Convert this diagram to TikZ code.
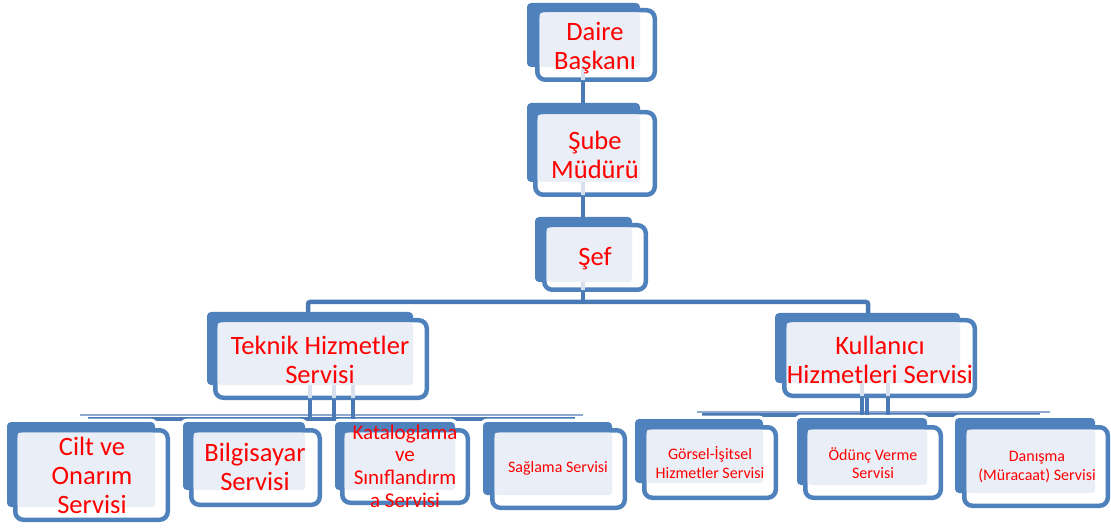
\documentclass[tikz,border=0pt]{standalone}
\usepackage{fontspec}
\setmainfont{Carlito}
\usetikzlibrary{fit}
\definecolor{obl}{HTML}{4F81BD}
\definecolor{oline}{HTML}{4A7AB5}
\definecolor{olight}{HTML}{EAEFF7}
\definecolor{othin}{HTML}{8EA8D0}
\definecolor{ostub}{HTML}{D8E0EE}
\definecolor{ored}{HTML}{FF0000}
\tikzset{
  backbox/.style={fill=obl, draw=none, rounded corners=4pt, inner sep=0pt, outer sep=0pt},
  frontbox/.style={draw=obl, line width=4.5pt, fill=white, rounded corners=8pt, inner sep=0pt, outer sep=0pt},
  lightfill/.style={fill=olight, rounded corners=3pt},
  halofill/.style={fill=white, rounded corners=8pt},
  conn/.style={draw=oline, line width=4.5pt},
  thinline/.style={draw=othin, line width=1.5pt},
  stubline/.style={draw=ostub, line width=4.5pt},
  txtbig/.style={text=ored, align=center, inner sep=0pt, font=\fontsize{26.5}{29}\selectfont},
  txtmid/.style={text=ored, align=center, inner sep=0pt, font=\fontsize{21}{22.7}\selectfont},
  txtsmall/.style={text=ored, align=center, inner sep=0pt, font=\fontsize{16}{18.5}\selectfont},
}
% #1 name, #2-#5 back box, #6-#9 front box (outer edges, in px)
\newcommand\orgbox[9]{%
  \node[backbox, fit={(#2,#3) (#4,#5)}] (#1-b) {};
  \node[frontbox, fit={(#6+2.25,#7+2.25) (#8-2.25,#9-2.25)}] (#1) {};
  \fill[lightfill] (#6+4.5,#7+4.5) rectangle (#4,#5);
}
\newcommand\orghalo[8]{%
  \fill[halofill] (#1-3.5,#2-3.5) rectangle (#3+3.5,#4+3.5);
  \fill[halofill] (#5-3.5,#6-3.5) rectangle (#7+3.5,#8+3.5);
}
\begin{document}
\begin{tikzpicture}[x=1pt,y=-1pt]
\fill[white] (0,0) rectangle (1111,529);
\useasboundingbox (0,0) rectangle (1111,529);

% free coordinates for the bus lines
\coordinate (cx) at (583,0);
\coordinate (hy) at (0,302);
\coordinate (lx) at (308,0);
\coordinate (rx) at (868,0);
\coordinate (lthinA) at (80,415);
\coordinate (lthinB) at (583,415);
\coordinate (lbarA) at (88,419);
\coordinate (lbarB) at (575,419);
\coordinate (rthinA) at (697,412);
\coordinate (rthinB) at (1050,412);
\coordinate (rbarA) at (702,415);
\coordinate (rbarB) at (1040,415);
\coordinate (tA) at (310,0);
\coordinate (tB) at (334,0);
\coordinate (tC) at (353,0);
\coordinate (kA) at (862,0);
\coordinate (kB) at (867,0);
\coordinate (kC) at (888,0);

% bus lines of lower level
\draw[thinline] (lthinA) -- (lthinB);
\draw[conn, line width=4pt] (lbarA) -- (lbarB);
\draw[thinline] (rthinA) -- (rthinB);
\draw[conn, line width=4pt] (rbarA) -- (rbarB);

% halos of lower boxes
\orghalo{7}{422}{155}{507}{13}{428}{170}{522}
\orghalo{183}{422}{305}{490}{189}{428}{322}{507}
\orghalo{335}{422}{455}{490}{340}{428}{470}{505}
\orghalo{483}{422}{612}{495}{490}{428}{627}{510}
\orghalo{635}{419}{763}{483}{642}{425}{778}{500}
\orghalo{797}{418}{927}{485}{803}{425}{943}{500}
\orghalo{955}{418}{1095}{493}{962}{425}{1110}{508}

% boxes
\orgbox{daire}{527}{3}{640}{67}{535}{8}{657}{82}
\orgbox{sube}{527}{103}{640}{182}{533}{110}{657}{197}
\orgbox{sef}{535}{217}{632}{282}{542}{223}{648}{292}
\orgbox{teknik}{207}{312}{413}{385}{213}{318}{429}{400}
\orgbox{kullanici}{775}{313}{960}{383}{782}{318}{977}{398}
\orgbox{cilt}{7}{422}{155}{507}{13}{428}{170}{522}
\orgbox{bilgisayar}{183}{422}{305}{490}{189}{428}{322}{507}
\orgbox{katalog}{335}{422}{455}{490}{340}{428}{470}{505}
\orgbox{saglama}{483}{422}{612}{495}{490}{428}{627}{510}
\orgbox{gorsel}{635}{419}{763}{483}{642}{425}{778}{500}
\orgbox{odunc}{797}{418}{927}{485}{803}{425}{943}{500}
\orgbox{danisma}{955}{418}{1095}{493}{962}{425}{1110}{508}

% upper connectors
\draw[conn] ([yshift=-2.25pt]daire.south -| cx) -- (sube-b.north -| cx);
\draw[conn] ([yshift=-2.25pt]sube.south -| cx) -- (sef-b.north -| cx);
\draw[conn] ([yshift=-2.25pt]sef.south -| cx) -- (cx |- hy);
\draw[conn, rounded corners=2pt] (teknik-b.north -| lx) -- (lx |- hy) -- (rx |- hy) -- (kullanici-b.north -| rx);

% lower connectors
\draw[conn, line width=4pt] ([yshift=-2.25pt]teknik.south -| tA) -- (tA |- lbarA) -- (tB |- lbarA) -- ([yshift=-2.25pt]teknik.south -| tB);
\draw[conn, line width=4pt] ([yshift=-2.25pt]teknik.south -| tC) -- (tC |- lbarA);
\draw[conn, line width=3.5pt] ([yshift=-2.25pt]kullanici.south -| kA) -- (kA |- rbarA);
\draw[conn, line width=3.5pt] ([yshift=-2.25pt]kullanici.south -| kB) -- (kB |- rbarA);
\draw[conn, line width=3.5pt] ([yshift=-2.25pt]kullanici.south -| kC) -- (kC |- rbarA);

% faint stubs inside boxes
\draw[stubline] (daire-b.south -| cx) -- (daire.south -| cx);
\draw[stubline] (sube-b.south -| cx) -- (sube.south -| cx);
\draw[stubline] (sef-b.south -| cx) -- (sef.south -| cx);
\draw[stubline, line width=4pt] (teknik-b.south -| tA) -- (teknik.south -| tA);
\draw[stubline, line width=4pt] (teknik-b.south -| tB) -- (teknik.south -| tB);
\draw[stubline, line width=4pt] (teknik-b.south -| tC) -- (teknik.south -| tC);
\draw[stubline, line width=3.5pt] (kullanici-b.south -| kA) -- (kullanici.south -| kA);
\draw[stubline, line width=3.5pt] (kullanici-b.south -| kC) -- (kullanici.south -| kC);

% texts
\node[txtbig] (daire-t) at (595,48) {Daire\\Başkanı};
\node[txtbig] (sube-t) at (595,155) {Şube\\Müdürü};
\node[txtbig] (sef-t) at (595,259) {Şef};
\node[txtbig] (teknik-t) at (320,360) {Teknik Hizmetler\\Servisi};
\node[txtbig] (kullanici-t) at (880,359.5) {Kullanıcı\\Hizmetleri Servisi};
\node[txtbig] (cilt-t) at (92,475) {Cilt ve\\Onarım\\Servisi};
\node[txtbig] (bilgisayar-t) at (255,466.5) {Bilgisayar\\Servisi};
\node[txtmid] (katalog-t) at (405,466) {Kataloglama\\ve\\Sınıflandırm\\a Servisi};
\node[txtsmall] (saglama-t) at (558,468) {Sağlama Servisi};
\node[txtsmall] (gorsel-t) at (710,462.5) {Görsel-İşitsel\\Hizmetler Servisi};
\node[txtsmall] (odunc-t) at (873,463) {Ödünç Verme\\Servisi};
\node[txtsmall] (danisma-t) at (1037,467) {Danışma\\(Müracaat) Servisi};
\end{tikzpicture}
\end{document}
